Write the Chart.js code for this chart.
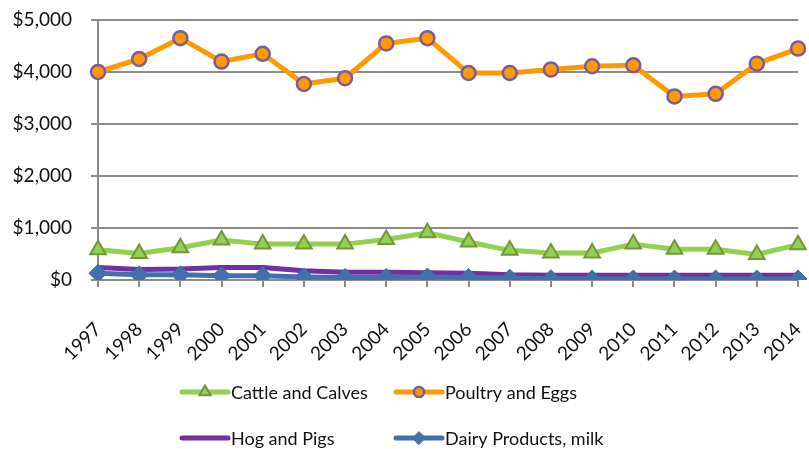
<!DOCTYPE html>
<html>
<head>
<meta charset="utf-8">
<script src="https://cdn.jsdelivr.net/npm/chart.js@4/dist/chart.umd.min.js"></script>
<style>
  html, body { margin: 0; padding: 0; background: #ffffff; }
  #wrap { width: 809px; height: 449px; }
</style>
</head>
<body>
<div id="wrap"><canvas id="chart" width="809" height="449"></canvas></div>
<script>
// Annual value by commodity, thousands of dollars
const years = ['1997','1998','1999','2000','2001','2002','2003','2004','2005',
               '2006','2007','2008','2009','2010','2011','2012','2013','2014'];
const cattleAndCalves = [580, 510, 620, 770, 690, 690, 690, 780, 910, 730, 570, 520, 520, 690, 590, 590, 490, 680];
const poultryAndEggs  = [4000, 4250, 4650, 4200, 4350, 3770, 3880, 4550, 4650, 3980, 3980, 4050, 4110, 4130, 3530, 3580, 4160, 4450];
const hogAndPigs      = [240, 200, 210, 240, 240, 180, 150, 150, 140, 130, 100, 90, 90, 90, 90, 90, 90, 90];
const dairyMilk       = [130, 100, 100, 80, 80, 60, 50, 50, 60, 50, 35, 25, 20, 20, 20, 20, 20, 20];
const yTicks = [0, 1000, 2000, 3000, 4000, 5000];

const FONT = 'Lato, "Open Sans", sans-serif';
const GRID = '#8c8c8c';
const TEXT = '#111111';

// Two-column legend under the plot: a line sample with the series marker on it
const gridLegend = {
  id: 'gridLegend',
  afterDraw(chart) {
    const ctx = chart.ctx;
    const cols = [182, 396];
    const rows = [392, 438];
    const lineLen = 46;
    ctx.save();
    ctx.font = '18px ' + FONT;
    ctx.textBaseline = 'middle';
    ctx.textAlign = 'left';
    chart.data.datasets.forEach((ds, i) => {
      const x = cols[i % 2];
      const y = rows[Math.floor(i / 2)];
      ctx.strokeStyle = ds.borderColor;
      ctx.lineWidth = 5;
      ctx.lineCap = 'round';
      ctx.beginPath();
      ctx.moveTo(x, y);
      ctx.lineTo(x + lineLen, y);
      ctx.stroke();
      if (ds.pointRadius > 0) {
        ctx.fillStyle = ds.pointBackgroundColor;
        ctx.strokeStyle = ds.pointBorderColor;
        ctx.lineWidth = ds.pointBorderWidth;
        Chart.helpers.drawPoint(ctx, {
          pointStyle: ds.pointStyle,
          radius: ds.pointRadius * 0.72,
          borderWidth: ds.pointBorderWidth,
          rotation: 0
        }, x + lineLen / 2, y);
      }
      ctx.fillStyle = TEXT;
      ctx.fillText(ds.label, x + lineLen + 3, y + 1);
    });
    ctx.restore();
  }
};

new Chart(document.getElementById('chart'), {
  type: 'line',
  data: {
    labels: years,
    datasets: [
      {
        label: 'Cattle and Calves',
        data: cattleAndCalves,
        borderColor: '#92D050',
        borderWidth: 5,
        pointStyle: 'triangle',
        pointRadius: 9,
        pointBackgroundColor: '#92D050',
        pointBorderColor: '#77933C',
        pointBorderWidth: 2,
        order: 3
      },
      {
        label: 'Poultry and Eggs',
        data: poultryAndEggs,
        borderColor: '#FF9900',
        borderWidth: 5,
        pointStyle: 'circle',
        pointRadius: 7,
        pointBackgroundColor: '#FF9900',
        pointBorderColor: '#7A5C9E',
        pointBorderWidth: 2.5,
        order: 2
      },
      {
        label: 'Hog and Pigs',
        data: hogAndPigs,
        borderColor: '#7030A0',
        borderWidth: 5,
        pointRadius: 0,
        order: 1
      },
      {
        label: 'Dairy Products, milk',
        data: dairyMilk,
        borderColor: '#4370AA',
        borderWidth: 5,
        pointStyle: 'rectRot',
        pointRadius: 9,
        pointBackgroundColor: '#4370AA',
        pointBorderColor: '#4370AA',
        pointBorderWidth: 1,
        order: 0
      }
    ]
  },
  options: {
    responsive: false,
    animation: false,
    events: [],
    elements: { line: { tension: 0, borderJoinStyle: 'round' } },
    layout: { padding: { top: 20, right: 9, left: 0, bottom: 0 } },
    plugins: {
      legend: { display: false },
      tooltip: { enabled: false }
    },
    scales: {
      x: {
        offset: false,
        grid: { display: true, drawOnChartArea: false, drawTicks: true, tickLength: 7, color: GRID, lineWidth: 2 },
        border: { display: true, color: GRID, width: 2 },
        ticks: {
          color: TEXT,
          font: { family: FONT, size: 19 },
          minRotation: 45,
          maxRotation: 45,
          autoSkip: false,
          padding: 31
        },
        afterFit(scale) {
          scale.height = 169;
          scale.paddingLeft = 0;
          scale.paddingRight = 0;
        }
      },
      y: {
        min: 0,
        max: 5000,
        afterBuildTicks(scale) { scale.ticks = yTicks.map(v => ({ value: v })); },
        grid: { color: GRID, lineWidth: 2, tickLength: 7 },
        border: { display: true, color: GRID, width: 2 },
        ticks: {
          color: TEXT,
          font: { family: FONT, size: 19 },
          padding: 19,
          callback: v => '$' + Number(v).toLocaleString('en-US')
        },
        afterFit(scale) {
          scale.width = 98;
          scale.paddingTop = 0;
          scale.paddingBottom = 0;
        }
      }
    }
  },
  plugins: [gridLegend]
});
</script>
</body>
</html>
